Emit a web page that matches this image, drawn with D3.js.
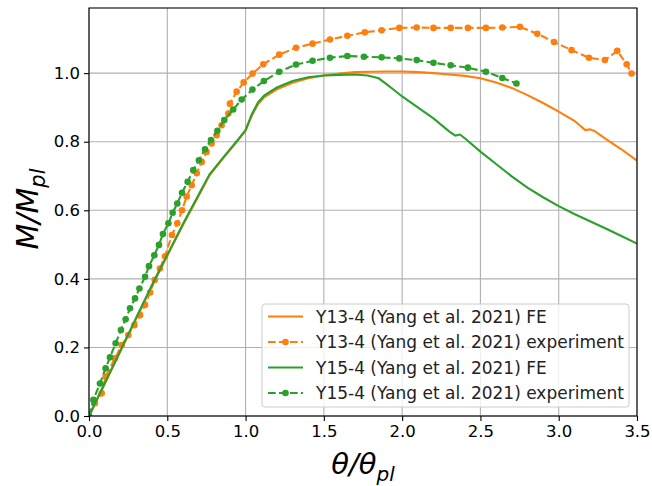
<!DOCTYPE html>
<html>
<head>
<meta charset="utf-8">
<script src="https://cdn.jsdelivr.net/npm/d3@7"></script>
<style>
  body { margin: 0; background: #fff; }
  text { font-family: "DejaVu Sans", sans-serif; }
</style>
</head>
<body>
<script>
// Y13-4 FE curve (theta/theta_pl, M/M_pl)
var y13FE = [[0,0],[0.1,0.094],[0.2,0.188],[0.3,0.283],[0.4,0.377],[0.5,0.467],[0.6,0.557],[0.7,0.642],[0.77,0.702],[0.85,0.748],[0.95,0.803],[1.0,0.832],[1.04,0.876],[1.08,0.91],[1.12,0.93],[1.2,0.953],[1.3,0.972],[1.4,0.985],[1.5,0.993],[1.6,0.999],[1.7,1.003],[1.8,1.004],[1.9,1.005],[2.0,1.005],[2.1,1.003],[2.2,1.0],[2.3,0.996],[2.4,0.992],[2.5,0.985],[2.6,0.973],[2.7,0.957],[2.8,0.936],[2.9,0.913],[3.0,0.888],[3.1,0.861],[3.17,0.834],[3.2,0.836],[3.23,0.831],[3.3,0.808],[3.4,0.778],[3.5,0.745]];
// Y13-4 experiment points
var y13Exp = [[0.0,0.0],[0.038,0.037],[0.081,0.066],[0.106,0.115],[0.166,0.168],[0.209,0.207],[0.251,0.236],[0.29,0.265],[0.326,0.294],[0.358,0.324],[0.39,0.36],[0.42,0.397],[0.453,0.43],[0.485,0.466],[0.53,0.528],[0.564,0.562],[0.594,0.6],[0.624,0.64],[0.656,0.673],[0.688,0.708],[0.72,0.741],[0.751,0.77],[0.783,0.795],[0.815,0.819],[0.847,0.848],[0.89,0.882],[0.9,0.911],[0.943,0.946],[0.988,0.973],[1.045,0.999],[1.113,1.026],[1.215,1.054],[1.322,1.074],[1.428,1.086],[1.539,1.098],[1.65,1.109],[1.762,1.119],[1.869,1.125],[1.982,1.132],[2.093,1.133],[2.2,1.132],[2.31,1.132],[2.42,1.132],[2.535,1.132],[2.64,1.133],[2.752,1.135],[2.863,1.115],[2.97,1.091],[3.082,1.067],[3.193,1.045],[3.295,1.038],[3.374,1.065],[3.434,1.026],[3.465,0.999]];
// Y15-4 FE curve
var y15FE = [[0,0],[0.1,0.095],[0.2,0.19],[0.3,0.285],[0.4,0.38],[0.5,0.47],[0.6,0.56],[0.7,0.645],[0.77,0.705],[0.85,0.75],[0.95,0.805],[1.0,0.834],[1.04,0.88],[1.08,0.915],[1.12,0.935],[1.2,0.958],[1.3,0.977],[1.4,0.988],[1.5,0.993],[1.6,0.995],[1.7,0.996],[1.78,0.993],[1.85,0.985],[1.9,0.968],[1.95,0.95],[2.0,0.932],[2.1,0.9],[2.2,0.868],[2.3,0.83],[2.34,0.818],[2.37,0.821],[2.4,0.81],[2.5,0.771],[2.6,0.735],[2.7,0.699],[2.8,0.666],[2.9,0.638],[3.0,0.612],[3.1,0.589],[3.2,0.568],[3.3,0.547],[3.4,0.525],[3.5,0.503]];
// Y15-4 experiment points
var y15Exp = [[0.0,0.0],[0.028,0.047],[0.07,0.095],[0.106,0.139],[0.134,0.171],[0.17,0.212],[0.204,0.251],[0.234,0.282],[0.262,0.314],[0.294,0.343],[0.322,0.372],[0.358,0.406],[0.383,0.437],[0.417,0.469],[0.447,0.499],[0.472,0.531],[0.507,0.562],[0.534,0.593],[0.564,0.62],[0.594,0.651],[0.63,0.683],[0.666,0.717],[0.702,0.746],[0.741,0.778],[0.779,0.805],[0.82,0.832],[0.864,0.863],[0.921,0.894],[0.975,0.923],[1.044,0.952],[1.117,0.977],[1.215,1.004],[1.322,1.025],[1.428,1.036],[1.539,1.045],[1.65,1.05],[1.756,1.048],[1.869,1.046],[1.982,1.043],[2.093,1.038],[2.2,1.03],[2.31,1.023],[2.42,1.016],[2.535,1.004],[2.64,0.986],[2.73,0.97]];

var xTicks = [0, 0.5, 1.0, 1.5, 2.0, 2.5, 3.0, 3.5];
var yTicks = [0, 0.2, 0.4, 0.6, 0.8, 1.0];
var legendLabels = ["Y13-4 (Yang et al. 2021) FE", "Y13-4 (Yang et al. 2021) experiment",
                    "Y15-4 (Yang et al. 2021) FE", "Y15-4 (Yang et al. 2021) experiment"];

var w = 652, h = 486;
var pLeft = 89, pRight = 637, pTop = 8, pBottom = 416;
var orange = "#ff7f0e", green = "#2ca02c";

var svg = d3.select("body").append("svg")
  .attr("width", w).attr("height", h);

var x = d3.scaleLinear().domain([0, 3.5]).range([pLeft, pRight]);
var y = d3.scaleLinear().domain([0, 1.19]).range([pBottom, pTop]);

// grid
svg.append("g").selectAll("line").data(xTicks).enter().append("line")
  .attr("x1", d => x(d)).attr("x2", d => x(d))
  .attr("y1", pTop).attr("y2", pBottom)
  .attr("stroke", "#b0b0b0").attr("stroke-width", 1.1);
svg.append("g").selectAll("line").data(yTicks).enter().append("line")
  .attr("x1", pLeft).attr("x2", pRight)
  .attr("y1", d => y(d)).attr("y2", d => y(d))
  .attr("stroke", "#b0b0b0").attr("stroke-width", 1.1);

svg.append("clipPath").attr("id", "clip")
  .append("rect").attr("x", pLeft).attr("y", pTop)
  .attr("width", pRight - pLeft).attr("height", pBottom - pTop);

var line = d3.line().x(d => x(d[0])).y(d => y(d[1]));
var plot = svg.append("g").attr("clip-path", "url(#clip)");

function drawSeries(data, color, dashed) {
  plot.append("path").datum(data)
    .attr("d", line)
    .attr("fill", "none")
    .attr("stroke", color)
    .attr("stroke-width", 2.1)
    .attr("stroke-dasharray", dashed ? "7.7,3.3" : null);
  if (dashed) {
    plot.append("g").selectAll("circle").data(data).enter().append("circle")
      .attr("cx", d => x(d[0])).attr("cy", d => y(d[1]))
      .attr("r", 3.3).attr("fill", color);
  }
}

drawSeries(y13FE, orange, false);
drawSeries(y13Exp, orange, true);
drawSeries(y15FE, green, false);
drawSeries(y15Exp, green, true);

// axes
var xAxis = d3.axisBottom(x).tickValues(xTicks).tickFormat(d3.format(".1f")).tickSize(5).tickPadding(4);
var yAxis = d3.axisLeft(y).tickValues(yTicks).tickFormat(d3.format(".1f")).tickSize(5).tickPadding(4);

var gx = svg.append("g").attr("transform", "translate(0," + pBottom + ")").call(xAxis);
var gy = svg.append("g").attr("transform", "translate(" + pLeft + ",0)").call(yAxis);
[gx, gy].forEach(function(g) {
  g.select(".domain").remove();
  g.selectAll("line").attr("stroke", "#000").attr("stroke-width", 1.1);
  g.selectAll("text").attr("font-size", 16.5).attr("fill", "#000")
    .attr("font-family", "DejaVu Sans, sans-serif");
});

svg.append("rect")
  .attr("x", pLeft).attr("y", pTop)
  .attr("width", pRight - pLeft).attr("height", pBottom - pTop)
  .attr("fill", "none").attr("stroke", "#000").attr("stroke-width", 1.1);

// axis labels
var xl = svg.append("text").attr("x", 363).attr("y", 474)
  .attr("text-anchor", "middle").attr("font-size", 29).attr("font-style", "italic");
xl.append("tspan").text("θ/θ");
xl.append("tspan").attr("font-size", 20).attr("dy", 7).text("pl");

var yl = svg.append("text")
  .attr("transform", "translate(38,209) rotate(-90)")
  .attr("text-anchor", "middle").attr("font-size", 30).attr("font-style", "italic");
yl.append("tspan").text("M/M");
yl.append("tspan").attr("font-size", 21).attr("dy", 7).text("pl");

// legend
var lg = svg.append("g").attr("transform", "translate(262,304)");
lg.append("rect").attr("width", 367).attr("height", 103).attr("rx", 3)
  .attr("fill", "#fff").attr("fill-opacity", 0.8)
  .attr("stroke", "#cccccc").attr("stroke-width", 1);
var legColors = [orange, orange, green, green];
var legDash = [false, true, false, true];
legendLabels.forEach(function(lab, i) {
  var ly = 12.5 + i * 25.5;
  lg.append("line").attr("x1", 6).attr("x2", 41).attr("y1", ly).attr("y2", ly)
    .attr("stroke", legColors[i]).attr("stroke-width", 2.1)
    .attr("stroke-dasharray", legDash[i] ? "7.7,3.3" : null);
  if (legDash[i]) {
    lg.append("circle").attr("cx", 23.5).attr("cy", ly).attr("r", 3.3).attr("fill", legColors[i]);
  }
  lg.append("text").attr("x", 54).attr("y", ly + 6)
    .attr("font-size", 17).attr("fill", "#222").text(lab);
});
</script>
</body>
</html>
